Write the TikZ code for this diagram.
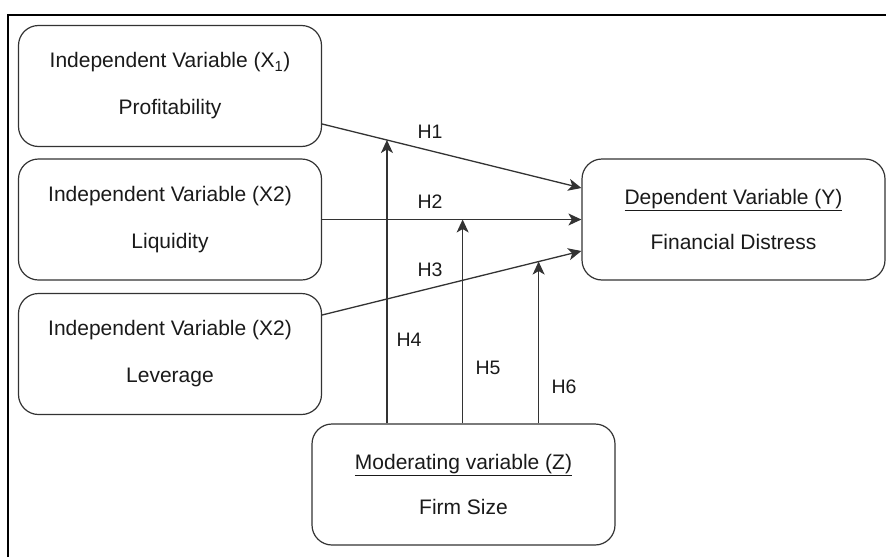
\documentclass[tikz,border=0pt]{standalone}
\usepackage{fontspec}
\setmainfont{Liberation Sans}
\usetikzlibrary{arrows.meta}
\definecolor{linec}{HTML}{333333}
\definecolor{textc}{HTML}{1A1A1A}
\begin{document}
\begin{tikzpicture}[x=1pt,y=-1pt,
  box/.style={draw=linec, line width=1.2pt, rounded corners=20pt, minimum width=303pt, minimum height=121pt, inner sep=0pt, align=center, text=textc, font=\fontsize{21}{47}\selectfont},
  arr/.style={draw=linec, line width=1.3pt, -{Stealth[length=13pt,width=12pt,inset=3.5pt]}},
  hlab/.style={text=textc, font=\fontsize{19.5}{22}\selectfont, inner sep=0pt}]
\useasboundingbox (0,0) rectangle (886,557);
\fill[white] (0,0) rectangle (886,557);
\draw[line width=2pt, black] (8,557) -- (8,15) -- (886,15);

\node[box] (b1) at (170,86) {Independent Variable (X\textsubscript{1})\\Profitability};
\node[box] (b2) at (170,219.5) {Independent Variable (X2)\\Liquidity};
\node[box] (b3) at (170,354) {Independent Variable (X2)\\Leverage};
\node[box, font=\fontsize{21}{45}\selectfont] (y) at (733.5,219.5) {\underline{Dependent Variable (Y)}\\Financial Distress};
\node[box, font=\fontsize{21}{45}\selectfont] (z) at (463.5,484.5) {\underline{Moderating variable (Z)}\\Firm Size};

\draw[arr] ([yshift=-38pt]b1.east) -- ([yshift=31.5pt]y.west) coordinate[pos=0.25] (p1);
\draw[arr] (b2.east) -- (y.west) coordinate[pos=0.542] (p2);
\draw[arr] ([yshift=39pt]b3.east) -- ([yshift=-31.5pt]y.west) coordinate[pos=0.835] (p3);

\draw[arr] (z.north -| p1) -- (p1);
\draw[arr] (z.north -| p2) -- (p2);
\draw[arr] (z.north -| p3) -- (p3);

\node[hlab] (h1) at (430,132) {H1};
\node[hlab] (h2) at (430,202) {H2};
\node[hlab] (h3) at (430,270) {H3};
\node[hlab] (h4) at (409,340) {H4};
\node[hlab] (h5) at (488,368) {H5};
\node[hlab] (h6) at (564,387) {H6};
\end{tikzpicture}
\end{document}
